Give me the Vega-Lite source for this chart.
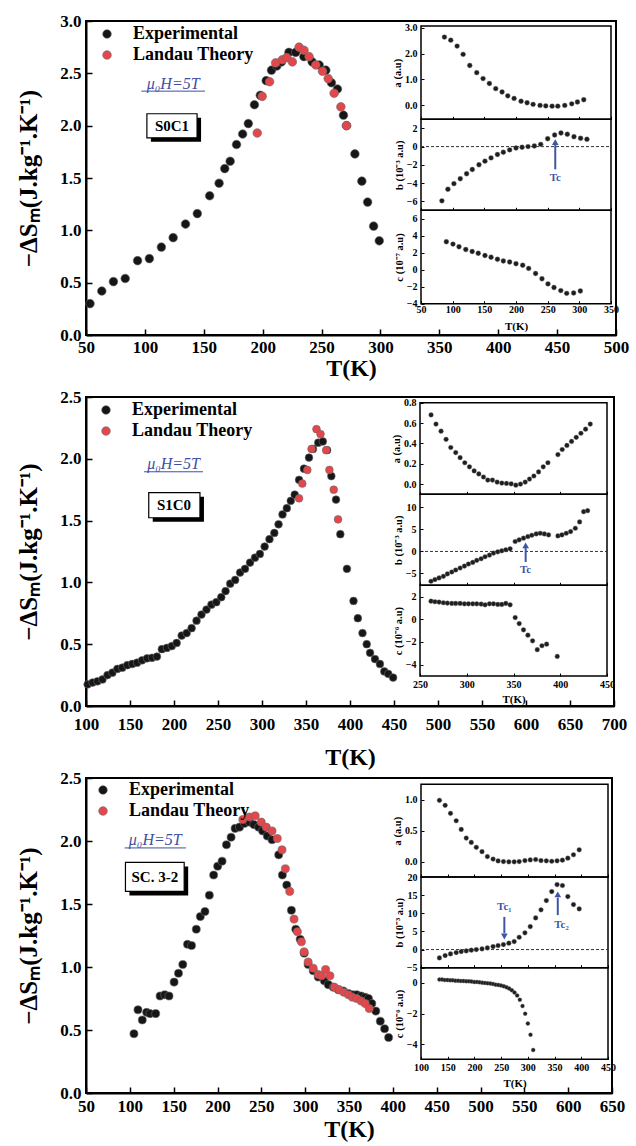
{
"$schema":"https://vega.github.io/schema/vega-lite/v6.json",
"background":"white",
"padding":{"left":15,"top":11,"right":0,"bottom":0},
"config":{
 "view":{"stroke":"black","strokeWidth":2},
 "font":"Liberation Serif",
 "axis":{"grid":false,"labelFont":"Liberation Serif","titleFont":"Liberation Serif","labelFontWeight":"bold","titleFontWeight":"bold","labelColor":"black","titleColor":"black","domainColor":"black","tickColor":"black","labelFlush":false,"labelOverlap":false},
 "legend":{"labelFont":"Liberation Serif","labelFontWeight":"bold","labelFontSize":18,"labelColor":"black","symbolType":"circle","symbolSize":75,"labelOffset":17,"rowPadding":3,"padding":0,"symbolStrokeWidth":0.6,"symbolStrokeColor":"#6a6a6a"}
},
"datasets":{
 "m1":[
  {"T":53.4,"v":0.30,"s":"Experimental"},{"T":63.4,"v":0.42,"s":"Experimental"},{"T":73.3,"v":0.51,"s":"Experimental"},{"T":83.3,"v":0.54,"s":"Experimental"},{"T":93.8,"v":0.71,"s":"Experimental"},{"T":103.8,"v":0.73,"s":"Experimental"},{"T":114,"v":0.84,"s":"Experimental"},{"T":124,"v":0.93,"s":"Experimental"},{"T":134.5,"v":1.06,"s":"Experimental"},{"T":144.5,"v":1.16,"s":"Experimental"},{"T":155,"v":1.33,"s":"Experimental"},{"T":163,"v":1.45,"s":"Experimental"},{"T":167.8,"v":1.59,"s":"Experimental"},{"T":172.4,"v":1.66,"s":"Experimental"},{"T":177.8,"v":1.82,"s":"Experimental"},{"T":183,"v":1.92,"s":"Experimental"},{"T":187.8,"v":2.02,"s":"Experimental"},{"T":193,"v":2.2,"s":"Experimental"},{"T":198,"v":2.29,"s":"Experimental"},{"T":203,"v":2.43,"s":"Experimental"},{"T":207.5,"v":2.53,"s":"Experimental"},{"T":212,"v":2.57,"s":"Experimental"},{"T":216,"v":2.61,"s":"Experimental"},{"T":222.3,"v":2.7,"s":"Experimental"},{"T":228,"v":2.7,"s":"Experimental"},{"T":235,"v":2.66,"s":"Experimental"},{"T":242,"v":2.61,"s":"Experimental"},{"T":248,"v":2.58,"s":"Experimental"},{"T":253.6,"v":2.53,"s":"Experimental"},{"T":258.4,"v":2.41,"s":"Experimental"},{"T":263.5,"v":2.35,"s":"Experimental"},{"T":268.6,"v":2.1,"s":"Experimental"},{"T":271.2,"v":2.0,"s":"Experimental"},{"T":278.3,"v":1.73,"s":"Experimental"},{"T":284.2,"v":1.47,"s":"Experimental"},{"T":289.1,"v":1.27,"s":"Experimental"},{"T":294.2,"v":1.04,"s":"Experimental"},{"T":299,"v":0.9,"s":"Experimental"},
  {"T":195.4,"v":1.93,"s":"Landau Theory"},{"T":199.6,"v":2.28,"s":"Landau Theory"},{"T":205.9,"v":2.42,"s":"Landau Theory"},{"T":211,"v":2.6,"s":"Landau Theory"},{"T":216.7,"v":2.63,"s":"Landau Theory"},{"T":220.4,"v":2.65,"s":"Landau Theory"},{"T":225.2,"v":2.61,"s":"Landau Theory"},{"T":230.9,"v":2.75,"s":"Landau Theory"},{"T":235.1,"v":2.72,"s":"Landau Theory"},{"T":239.4,"v":2.66,"s":"Landau Theory"},{"T":245.1,"v":2.58,"s":"Landau Theory"},{"T":250.8,"v":2.52,"s":"Landau Theory"},{"T":255.6,"v":2.45,"s":"Landau Theory"},{"T":260.7,"v":2.31,"s":"Landau Theory"},{"T":266.4,"v":2.18,"s":"Landau Theory"},{"T":271.2,"v":2.0,"s":"Landau Theory"}
 ],
 "a1":[{"T":87,"v":2.64},{"T":97,"v":2.52},{"T":107,"v":2.29},{"T":116.5,"v":1.97},{"T":127,"v":1.54},{"T":138,"v":1.26},{"T":148,"v":1.03},{"T":158,"v":0.84},{"T":168,"v":0.64},{"T":178,"v":0.51},{"T":187,"v":0.36},{"T":197,"v":0.26},{"T":208,"v":0.15},{"T":217.5,"v":0.09},{"T":227,"v":0.03},{"T":238,"v":-0.01},{"T":247,"v":-0.03},{"T":257,"v":-0.04},{"T":266,"v":-0.04},{"T":277,"v":-0.01},{"T":288,"v":0.05},{"T":297,"v":0.12},{"T":307,"v":0.21}],
 "b1":[{"T":83,"v":-5.96},{"T":92.5,"v":-4.69},{"T":102,"v":-4.07},{"T":112,"v":-3.53},{"T":122,"v":-2.98},{"T":131,"v":-2.51},{"T":141.5,"v":-2.0},{"T":151,"v":-1.6},{"T":160.6,"v":-1.24},{"T":170.7,"v":-0.87},{"T":180,"v":-0.62},{"T":190,"v":-0.36},{"T":200,"v":-0.15},{"T":209.6,"v":-0.07},{"T":219,"v":0.0},{"T":229,"v":0.07},{"T":239,"v":0.25},{"T":250,"v":0.87},{"T":261,"v":1.27},{"T":271,"v":1.49},{"T":281,"v":1.36},{"T":291.5,"v":1.09},{"T":302,"v":0.91},{"T":312,"v":0.8}],
 "c1":[{"T":90,"v":3.29},{"T":100.5,"v":3.02},{"T":110,"v":2.7},{"T":120.7,"v":2.38},{"T":130.8,"v":2.14},{"T":140.4,"v":1.94},{"T":151,"v":1.67},{"T":160.6,"v":1.47},{"T":170.7,"v":1.23},{"T":180,"v":1.03},{"T":190,"v":0.91},{"T":200,"v":0.71},{"T":210.6,"v":0.52},{"T":220,"v":0.16},{"T":230.9,"v":-0.44},{"T":241,"v":-1.07},{"T":250.5,"v":-1.67},{"T":260,"v":-2.1},{"T":270.7,"v":-2.46},{"T":280,"v":-2.78},{"T":291,"v":-2.74},{"T":301.6,"v":-2.5}],
 "m2":[
  {"T":101.9,"v":0.175,"s":"Experimental"},{"T":107.5,"v":0.19,"s":"Experimental"},{"T":113,"v":0.2,"s":"Experimental"},{"T":118.7,"v":0.215,"s":"Experimental"},{"T":124.4,"v":0.25,"s":"Experimental"},{"T":130,"v":0.27,"s":"Experimental"},{"T":135.6,"v":0.3,"s":"Experimental"},{"T":141.2,"v":0.31,"s":"Experimental"},{"T":146.9,"v":0.33,"s":"Experimental"},{"T":152.5,"v":0.34,"s":"Experimental"},{"T":158,"v":0.35,"s":"Experimental"},{"T":163.7,"v":0.37,"s":"Experimental"},{"T":169.4,"v":0.386,"s":"Experimental"},{"T":175,"v":0.39,"s":"Experimental"},{"T":180.6,"v":0.4,"s":"Experimental"},{"T":186.2,"v":0.46,"s":"Experimental"},{"T":191.9,"v":0.47,"s":"Experimental"},{"T":197.5,"v":0.485,"s":"Experimental"},{"T":203,"v":0.51,"s":"Experimental"},{"T":208.7,"v":0.57,"s":"Experimental"},{"T":214.4,"v":0.59,"s":"Experimental"},{"T":220,"v":0.63,"s":"Experimental"},{"T":225.6,"v":0.69,"s":"Experimental"},{"T":231.2,"v":0.74,"s":"Experimental"},{"T":236.9,"v":0.78,"s":"Experimental"},{"T":242.5,"v":0.82,"s":"Experimental"},{"T":248.1,"v":0.84,"s":"Experimental"},{"T":253.7,"v":0.88,"s":"Experimental"},{"T":258.6,"v":0.93,"s":"Experimental"},{"T":263.9,"v":0.99,"s":"Experimental"},{"T":269.5,"v":1.02,"s":"Experimental"},{"T":275.1,"v":1.08,"s":"Experimental"},{"T":280.7,"v":1.11,"s":"Experimental"},{"T":286.4,"v":1.16,"s":"Experimental"},{"T":292,"v":1.2,"s":"Experimental"},{"T":297.6,"v":1.23,"s":"Experimental"},{"T":303,"v":1.29,"s":"Experimental"},{"T":308.5,"v":1.35,"s":"Experimental"},{"T":314,"v":1.4,"s":"Experimental"},{"T":318.8,"v":1.47,"s":"Experimental"},{"T":323.3,"v":1.55,"s":"Experimental"},{"T":328.2,"v":1.6,"s":"Experimental"},{"T":332.7,"v":1.66,"s":"Experimental"},{"T":337.2,"v":1.71,"s":"Experimental"},{"T":342.1,"v":1.83,"s":"Experimental"},{"T":347.7,"v":1.92,"s":"Experimental"},{"T":353.4,"v":2.01,"s":"Experimental"},{"T":357.9,"v":2.08,"s":"Experimental"},{"T":363.9,"v":2.13,"s":"Experimental"},{"T":369.1,"v":2.14,"s":"Experimental"},{"T":374,"v":2.07,"s":"Experimental"},{"T":378.8,"v":1.86,"s":"Experimental"},{"T":384.1,"v":1.67,"s":"Experimental"},{"T":389,"v":1.39,"s":"Experimental"},{"T":396.5,"v":1.11,"s":"Experimental"},{"T":404,"v":0.85,"s":"Experimental"},{"T":408.9,"v":0.71,"s":"Experimental"},{"T":414.2,"v":0.59,"s":"Experimental"},{"T":419,"v":0.5,"s":"Experimental"},{"T":422.8,"v":0.43,"s":"Experimental"},{"T":428.4,"v":0.38,"s":"Experimental"},{"T":434,"v":0.34,"s":"Experimental"},{"T":439,"v":0.28,"s":"Experimental"},{"T":443.5,"v":0.26,"s":"Experimental"},{"T":449,"v":0.23,"s":"Experimental"},
  {"T":342.1,"v":1.68,"s":"Landau Theory"},{"T":345.8,"v":1.8,"s":"Landau Theory"},{"T":351.5,"v":1.91,"s":"Landau Theory"},{"T":356.3,"v":2.08,"s":"Landau Theory"},{"T":361.9,"v":2.24,"s":"Landau Theory"},{"T":366.5,"v":2.2,"s":"Landau Theory"},{"T":372.9,"v":2.07,"s":"Landau Theory"},{"T":376.6,"v":1.91,"s":"Landau Theory"},{"T":381.5,"v":1.75,"s":"Landau Theory"},{"T":386.4,"v":1.51,"s":"Landau Theory"}
 ],
 "a2":[{"T":261.8,"v":0.68},{"T":267.1,"v":0.59},{"T":272.5,"v":0.52},{"T":277.9,"v":0.44},{"T":282.9,"v":0.36},{"T":288.2,"v":0.31},{"T":292.9,"v":0.26},{"T":297.9,"v":0.21},{"T":302.9,"v":0.17},{"T":307.9,"v":0.13},{"T":312.9,"v":0.1},{"T":317.9,"v":0.07},{"T":322.5,"v":0.04},{"T":327.5,"v":0.04},{"T":332.5,"v":0.02},{"T":337.5,"v":0.01},{"T":342.5,"v":0.007},{"T":347.5,"v":0.003},{"T":352.5,"v":-0.01},{"T":357.5,"v":0.0},{"T":362.5,"v":0.02},{"T":367.1,"v":0.05},{"T":371.8,"v":0.08},{"T":376.8,"v":0.12},{"T":381.8,"v":0.17},{"T":386.8,"v":0.21},{"T":397.5,"v":0.29},{"T":402.1,"v":0.34},{"T":407.1,"v":0.38},{"T":412.1,"v":0.42},{"T":417.1,"v":0.46},{"T":422.1,"v":0.5},{"T":427.1,"v":0.54},{"T":432.1,"v":0.59}],
 "b2":[{"T":261.8,"v":-6.78},{"T":266,"v":-6.4},{"T":270.4,"v":-6.03},{"T":275,"v":-5.65},{"T":279.3,"v":-5.12},{"T":284,"v":-4.67},{"T":288.2,"v":-4.22},{"T":292.9,"v":-3.77},{"T":297.5,"v":-3.32},{"T":301.8,"v":-2.86},{"T":306.4,"v":-2.49},{"T":310.7,"v":-2.03},{"T":315.4,"v":-1.66},{"T":319.6,"v":-1.21},{"T":324.3,"v":-0.83},{"T":328.6,"v":-0.38},{"T":333.2,"v":-0.08},{"T":337.5,"v":0.15},{"T":341.8,"v":0.38},{"T":346.4,"v":0.6},{"T":351.8,"v":2.26},{"T":356.1,"v":2.64},{"T":360.7,"v":3.01},{"T":365.4,"v":3.39},{"T":369.6,"v":3.69},{"T":374.3,"v":3.99},{"T":378.6,"v":4.14},{"T":383,"v":3.99},{"T":387.5,"v":3.77},{"T":397.5,"v":3.54},{"T":401.8,"v":3.77},{"T":406.4,"v":4.14},{"T":411.1,"v":4.52},{"T":416.1,"v":5.28},{"T":420.7,"v":6.71},{"T":425,"v":9.04},{"T":429.3,"v":9.27}],
 "c2":[{"T":261.8,"v":1.6},{"T":266,"v":1.55},{"T":270.4,"v":1.52},{"T":275,"v":1.46},{"T":279.3,"v":1.43},{"T":284,"v":1.4},{"T":288.2,"v":1.4},{"T":292.9,"v":1.4},{"T":297.5,"v":1.37},{"T":301.8,"v":1.37},{"T":306.4,"v":1.37},{"T":310.7,"v":1.37},{"T":315.4,"v":1.34},{"T":319.6,"v":1.28},{"T":324.3,"v":1.37},{"T":328.6,"v":1.37},{"T":333.2,"v":1.31},{"T":337.5,"v":1.31},{"T":341.8,"v":1.4},{"T":346.4,"v":1.28},{"T":351.8,"v":0.15},{"T":356.1,"v":-0.38},{"T":360.7,"v":-0.93},{"T":365.4,"v":-1.4},{"T":370.4,"v":-1.9},{"T":375.4,"v":-2.68},{"T":380.4,"v":-2.33},{"T":385.4,"v":-2.19},{"T":396.8,"v":-3.27}],
 "m3":[
  {"T":104.7,"v":0.47,"s":"Experimental"},{"T":109.3,"v":0.66,"s":"Experimental"},{"T":114.2,"v":0.58,"s":"Experimental"},{"T":119.2,"v":0.64,"s":"Experimental"},{"T":123,"v":0.63,"s":"Experimental"},{"T":129.5,"v":0.63,"s":"Experimental"},{"T":134.5,"v":0.77,"s":"Experimental"},{"T":139.8,"v":0.78,"s":"Experimental"},{"T":144.7,"v":0.77,"s":"Experimental"},{"T":150.5,"v":0.88,"s":"Experimental"},{"T":155.5,"v":0.95,"s":"Experimental"},{"T":160.4,"v":1.02,"s":"Experimental"},{"T":165.8,"v":1.18,"s":"Experimental"},{"T":170.4,"v":1.17,"s":"Experimental"},{"T":175.8,"v":1.3,"s":"Experimental"},{"T":180.4,"v":1.4,"s":"Experimental"},{"T":185.7,"v":1.44,"s":"Experimental"},{"T":190.7,"v":1.57,"s":"Experimental"},{"T":195.6,"v":1.73,"s":"Experimental"},{"T":200.2,"v":1.8,"s":"Experimental"},{"T":205.2,"v":1.84,"s":"Experimental"},{"T":210.2,"v":1.97,"s":"Experimental"},{"T":215.5,"v":2.03,"s":"Experimental"},{"T":220.1,"v":2.1,"s":"Experimental"},{"T":225.1,"v":2.11,"s":"Experimental"},{"T":230.9,"v":2.14,"s":"Experimental"},{"T":236.6,"v":2.15,"s":"Experimental"},{"T":241.5,"v":2.13,"s":"Experimental"},{"T":246.9,"v":2.11,"s":"Experimental"},{"T":251.5,"v":2.08,"s":"Experimental"},{"T":256.8,"v":2.04,"s":"Experimental"},{"T":262.2,"v":2.01,"s":"Experimental"},{"T":269.8,"v":1.89,"s":"Experimental"},{"T":274,"v":1.73,"s":"Experimental"},{"T":279,"v":1.65,"s":"Experimental"},{"T":284.3,"v":1.45,"s":"Experimental"},{"T":289.3,"v":1.3,"s":"Experimental"},{"T":294.3,"v":1.22,"s":"Experimental"},{"T":298.9,"v":1.11,"s":"Experimental"},{"T":303.4,"v":1.02,"s":"Experimental"},{"T":309.2,"v":0.97,"s":"Experimental"},{"T":314.9,"v":0.92,"s":"Experimental"},{"T":321.8,"v":0.89,"s":"Experimental"},{"T":326.4,"v":0.86,"s":"Experimental"},{"T":332.1,"v":0.84,"s":"Experimental"},{"T":337.8,"v":0.82,"s":"Experimental"},{"T":343.6,"v":0.81,"s":"Experimental"},{"T":349.3,"v":0.79,"s":"Experimental"},{"T":354.3,"v":0.78,"s":"Experimental"},{"T":358.8,"v":0.78,"s":"Experimental"},{"T":363.9,"v":0.77,"s":"Experimental"},{"T":368.5,"v":0.76,"s":"Experimental"},{"T":372.2,"v":0.75,"s":"Experimental"},{"T":376,"v":0.71,"s":"Experimental"},{"T":380.6,"v":0.65,"s":"Experimental"},{"T":385.7,"v":0.57,"s":"Experimental"},{"T":390.6,"v":0.51,"s":"Experimental"},{"T":395.2,"v":0.44,"s":"Experimental"},
  {"T":228.9,"v":2.17,"s":"Landau Theory"},{"T":236.6,"v":2.19,"s":"Landau Theory"},{"T":243,"v":2.2,"s":"Landau Theory"},{"T":249.9,"v":2.15,"s":"Landau Theory"},{"T":255.6,"v":2.11,"s":"Landau Theory"},{"T":262.2,"v":2.08,"s":"Landau Theory"},{"T":268.2,"v":2.02,"s":"Landau Theory"},{"T":273.6,"v":1.93,"s":"Landau Theory"},{"T":277.4,"v":1.78,"s":"Landau Theory"},{"T":282.4,"v":1.6,"s":"Landau Theory"},{"T":287.3,"v":1.38,"s":"Landau Theory"},{"T":291.1,"v":1.28,"s":"Landau Theory"},{"T":295.7,"v":1.2,"s":"Landau Theory"},{"T":298.8,"v":1.12,"s":"Landau Theory"},{"T":303.4,"v":1.04,"s":"Landau Theory"},{"T":309.2,"v":0.99,"s":"Landau Theory"},{"T":314.9,"v":0.94,"s":"Landau Theory"},{"T":318.7,"v":0.93,"s":"Landau Theory"},{"T":323.3,"v":0.98,"s":"Landau Theory"},{"T":328.3,"v":0.93,"s":"Landau Theory"},{"T":333.3,"v":0.84,"s":"Landau Theory"},{"T":338.7,"v":0.82,"s":"Landau Theory"},{"T":344,"v":0.8,"s":"Landau Theory"},{"T":349.3,"v":0.78,"s":"Landau Theory"},{"T":353.9,"v":0.76,"s":"Landau Theory"},{"T":358.8,"v":0.75,"s":"Landau Theory"},{"T":363.9,"v":0.73,"s":"Landau Theory"},{"T":368.5,"v":0.71,"s":"Landau Theory"},{"T":373.1,"v":0.67,"s":"Landau Theory"}
 ],
 "a3":[{"T":134.5,"v":0.99},{"T":145.2,"v":0.91},{"T":155.2,"v":0.78},{"T":165.9,"v":0.66},{"T":175.3,"v":0.52},{"T":184.7,"v":0.38},{"T":194.1,"v":0.31},{"T":203.5,"v":0.23},{"T":214.2,"v":0.16},{"T":224.2,"v":0.08},{"T":234.9,"v":0.04},{"T":244.3,"v":0.01},{"T":254.3,"v":0.0},{"T":264.4,"v":-0.005},{"T":274.4,"v":-0.005},{"T":283.8,"v":0.0},{"T":294.5,"v":0.016},{"T":304.5,"v":0.027},{"T":314.6,"v":0.033},{"T":324.6,"v":0.016},{"T":334.6,"v":0.011},{"T":344.7,"v":0.005},{"T":354.7,"v":0.011},{"T":364.7,"v":0.022},{"T":374.8,"v":0.055},{"T":385.4,"v":0.11},{"T":396.1,"v":0.19}],
 "b3":[{"T":134.5,"v":-2.3},{"T":145.2,"v":-1.65},{"T":155.2,"v":-1.19},{"T":165.9,"v":-0.83},{"T":175.3,"v":-0.55},{"T":184.7,"v":-0.37},{"T":194.1,"v":-0.18},{"T":203.5,"v":0.0},{"T":214.2,"v":0.18},{"T":224.2,"v":0.46},{"T":234.9,"v":0.83},{"T":244.3,"v":1.1},{"T":254.3,"v":1.38},{"T":264.4,"v":1.75},{"T":274.4,"v":2.21},{"T":283.8,"v":3.4},{"T":294.5,"v":4.6},{"T":304.5,"v":6.34},{"T":314.6,"v":8.73},{"T":324.6,"v":10.94},{"T":334.6,"v":13.51},{"T":344.7,"v":15.99},{"T":354.7,"v":17.92},{"T":364.7,"v":17.65},{"T":374.8,"v":14.61},{"T":385.4,"v":12.41},{"T":396.1,"v":11.21}],
 "c3":[{"T":134.5,"v":0.22},{"T":139.5,"v":0.22},{"T":144.5,"v":0.19},{"T":149.6,"v":0.19},{"T":154.6,"v":0.17},{"T":159.6,"v":0.17},{"T":164.6,"v":0.15},{"T":169.6,"v":0.15},{"T":174.6,"v":0.13},{"T":179.7,"v":0.13},{"T":184.7,"v":0.11},{"T":189.7,"v":0.11},{"T":194.7,"v":0.09},{"T":199.7,"v":0.065},{"T":204.8,"v":0.065},{"T":209.8,"v":0.04},{"T":214.8,"v":0.02},{"T":219.8,"v":0.0},{"T":224.8,"v":-0.02},{"T":229.9,"v":-0.04},{"T":234.9,"v":-0.065},{"T":239.9,"v":-0.11},{"T":244.9,"v":-0.13},{"T":249.9,"v":-0.17},{"T":255,"v":-0.22},{"T":260,"v":-0.28},{"T":265,"v":-0.37},{"T":270,"v":-0.48},{"T":275,"v":-0.63},{"T":280,"v":-0.82},{"T":285,"v":-1.1},{"T":290,"v":-1.51},{"T":295,"v":-2.01},{"T":300,"v":-2.66},{"T":305,"v":-3.39},{"T":310,"v":-4.39}]
},
"bounds":"flush",
"spacing":62,
"resolve":{"scale":{"color":"independent"},"legend":{"color":"independent"}},
"vconcat":[
 {
  "width":530,"height":314,
  "resolve":{"scale":{"x":"independent","y":"independent"},"axis":{"x":"independent","y":"independent"}},
  "layer":[
   {"layer":[
     {"data":{"name":"m1"},"mark":{"type":"point","filled":true,"size":75,"opacity":1,"stroke":"#6a6a6a","strokeWidth":0.6},
      "encoding":{
       "x":{"field":"T","type":"quantitative","scale":{"domain":[50,500],"nice":false,"zero":false},
        "axis":{"orient":"bottom","values":[50,75,100,125,150,175,200,225,250,275,300,325,350,375,400,425,450,475,500],"labelExpr":"datum.value % 50 == 0 ? datum.label : ''","tickSize":-6,"tickWidth":1.5,"domainWidth":2,"labelFontSize":17,"labelPadding":10,"title":"T(K)","titleFontSize":24,"titlePadding":1}},
       "y":{"field":"v","type":"quantitative","scale":{"domain":[0,3],"nice":false,"zero":false},
        "axis":{"orient":"left","values":[0,0.25,0.5,0.75,1,1.25,1.5,1.75,2,2.25,2.5,2.75,3],"labelExpr":"round(datum.value*4) % 2 == 0 ? format(datum.value, '.1f') : ''","tickSize":-6,"tickWidth":1.5,"domainWidth":2,"labelFontSize":17,"labelPadding":11,"title":"−ΔSₘ(J.kg⁻¹.K⁻¹)","titleFontSize":25,"titlePadding":18}},
       "color":{"field":"s","type":"nominal","scale":{"domain":["Experimental","Landau Theory"],"range":["#161616","#e4474b"]},
        "legend":{"title":null,"orient":"none","legendX":12,"legendY":4}}
      }},
     {"data":{"values":[{}]},"mark":{"type":"rect","fill":"black","xOffset":4,"x2Offset":4,"yOffset":4,"y2Offset":4},
      "encoding":{"x":{"datum":101.7,"type":"quantitative"},"x2":{"datum":144.3},"y":{"datum":2.114,"type":"quantitative"},"y2":{"datum":1.884}}},
     {"data":{"values":[{}]},"mark":{"type":"rect","fill":"white","stroke":"black","strokeWidth":1.2},
      "encoding":{"x":{"datum":101.7,"type":"quantitative"},"x2":{"datum":144.3},"y":{"datum":2.114,"type":"quantitative"},"y2":{"datum":1.884}}},
     {"data":{"values":[{}]},"mark":{"type":"text","text":"S0C1","font":"Liberation Serif","fontWeight":"bold","fontSize":15,"color":"black"},
      "encoding":{"x":{"datum":123,"type":"quantitative"},"y":{"datum":2.0,"type":"quantitative"}}},
     {"data":{"values":[{}]},"mark":{"type":"text","text":"μ₀H=5T","font":"Liberation Serif","fontStyle":"italic","fontSize":16,"color":"#3e4fa3"},
      "encoding":{"x":{"datum":124,"type":"quantitative"},"y":{"datum":2.4,"type":"quantitative"}}},
     {"data":{"values":[{}]},"mark":{"type":"rule","color":"#3e4fa3","strokeWidth":1},
      "encoding":{"x":{"datum":97,"type":"quantitative"},"x2":{"datum":151},"y":{"datum":2.33,"type":"quantitative"}}}
   ]},
   {"layer":[
     {"data":{"values":[{}]},"mark":{"type":"rect","fill":"transparent","stroke":"black","strokeWidth":1.5},
      "encoding":{"x":{"datum":50,"type":"quantitative"},"x2":{"datum":350},"y":{"datum":-0.55,"type":"quantitative"},"y2":{"datum":3.07}}},
     {"data":{"name":"a1"},"mark":{"type":"point","filled":true,"size":24,"opacity":1,"color":"#1e1e1e","stroke":"#777","strokeWidth":0.4},
      "encoding":{
       "x":{"field":"T","type":"quantitative","scale":{"domain":[50,350],"range":[335,525],"nice":false,"zero":false},
        "axis":{"orient":"bottom","offset":-215.7,"values":[50,100,150,200,250,300,350],"labels":false,"title":null,"domain":false,"tickSize":-3,"zindex":1}},
       "y":{"field":"v","type":"quantitative","scale":{"domain":[-0.55,3.07],"range":[98.3,5],"nice":false,"zero":false},
        "axis":{"orient":"left","offset":-335,"values":[0,1,2,3],"domain":false,"tickSize":-3,"labelFontSize":10,"labelPadding":7,"title":"a (a.u)","titleFontSize":10.5,"titlePadding":2,"zindex":1}}
      }}
   ]},
   {"layer":[
     {"data":{"values":[{}]},"mark":{"type":"rect","fill":"transparent","stroke":"black","strokeWidth":1.5},
      "encoding":{"x":{"datum":50,"type":"quantitative"},"x2":{"datum":350},"y":{"datum":-7,"type":"quantitative"},"y2":{"datum":3}}},
     {"data":{"values":[{}]},"mark":{"type":"rule","color":"#333","strokeWidth":1,"strokeDash":[3,2]},
      "encoding":{"x":{"datum":50,"type":"quantitative"},"x2":{"datum":350},"y":{"datum":0,"type":"quantitative"}}},
     {"data":{"name":"b1"},"mark":{"type":"point","filled":true,"size":24,"opacity":1,"color":"#1e1e1e","stroke":"#777","strokeWidth":0.4},
      "encoding":{
       "x":{"field":"T","type":"quantitative","scale":{"domain":[50,350],"range":[335,525],"nice":false,"zero":false},
        "axis":{"orient":"bottom","offset":-124.7,"values":[50,100,150,200,250,300,350],"labels":false,"title":null,"domain":false,"tickSize":-3,"zindex":1}},
       "y":{"field":"v","type":"quantitative","scale":{"domain":[-7,3],"range":[189.3,98.3],"nice":false,"zero":false},
        "axis":{"orient":"left","offset":-335,"values":[-6,-4,-2,0,2],"domain":false,"tickSize":-3,"labelFontSize":10,"labelPadding":7,"title":"b (10⁻³ a.u)","titleFontSize":10.5,"titlePadding":2,"zindex":1}}
      }},
     {"data":{"values":[{}]},"mark":{"type":"rule","color":"#3f56a6","strokeWidth":2},
      "encoding":{"x":{"datum":262,"type":"quantitative"},"y":{"datum":-2.5,"type":"quantitative"},"y2":{"datum":0.3}}},
     {"data":{"values":[{}]},"mark":{"type":"point","shape":"triangle-up","filled":true,"size":45,"opacity":1,"color":"#3f56a6"},
      "encoding":{"x":{"datum":262,"type":"quantitative"},"y":{"datum":0.5,"type":"quantitative"}}},
     {"data":{"values":[{}]},"mark":{"type":"text","text":"Tc","font":"Liberation Serif","fontWeight":"bold","fontSize":11,"color":"#3f56a6"},
      "encoding":{"x":{"datum":262,"type":"quantitative"},"y":{"datum":-3.4,"type":"quantitative"}}}
   ]},
   {"layer":[
     {"data":{"values":[{}]},"mark":{"type":"rect","fill":"transparent","stroke":"black","strokeWidth":1.5},
      "encoding":{"x":{"datum":50,"type":"quantitative"},"x2":{"datum":350},"y":{"datum":-4,"type":"quantitative"},"y2":{"datum":7}}},
     {"data":{"name":"c1"},"mark":{"type":"point","filled":true,"size":24,"opacity":1,"color":"#1e1e1e","stroke":"#777","strokeWidth":0.4},
      "encoding":{
       "x":{"field":"T","type":"quantitative","scale":{"domain":[50,350],"range":[335,525],"nice":false,"zero":false},
        "axis":{"orient":"bottom","offset":-31.3,"values":[50,100,150,200,250,300,350],"domain":false,"tickSize":-3,"labelFontSize":10,"labelPadding":4,"title":"T(K)","titleFontSize":11,"titlePadding":6,"zindex":1}},
       "y":{"field":"v","type":"quantitative","scale":{"domain":[-4,7],"range":[282.7,189.3],"nice":false,"zero":false},
        "axis":{"orient":"left","offset":-335,"values":[-4,-2,0,2,4,6],"domain":false,"tickSize":-3,"labelFontSize":10,"labelPadding":7,"title":"c (10⁻⁷ a.u)","titleFontSize":10.5,"titlePadding":2,"zindex":1}}
      }}
   ]}
  ]
 },
 {"bounds":"flush","spacing":72,
  "resolve":{"scale":{"color":"independent"},"legend":{"color":"independent"}},
  "vconcat":[
 {
  "width":528,"height":309,
  "resolve":{"scale":{"x":"independent","y":"independent"},"axis":{"x":"independent","y":"independent"}},
  "layer":[
   {"layer":[
     {"data":{"name":"m2"},"mark":{"type":"point","filled":true,"size":60,"opacity":1,"stroke":"#6a6a6a","strokeWidth":0.6},
      "encoding":{
       "x":{"field":"T","type":"quantitative","scale":{"domain":[100,700],"nice":false,"zero":false},
        "axis":{"orient":"bottom","values":[100,125,150,175,200,225,250,275,300,325,350,375,400,425,450,475,500,525,550,575,600,625,650,675,700],"labelExpr":"datum.value % 50 == 0 ? datum.label : ''","tickSize":-6,"tickWidth":1.5,"domainWidth":2,"labelFontSize":17,"labelPadding":16,"title":"T(K)","titleFontSize":24,"titlePadding":13}},
       "y":{"field":"v","type":"quantitative","scale":{"domain":[0,2.5],"nice":false,"zero":false},
        "axis":{"orient":"left","values":[0,0.25,0.5,0.75,1,1.25,1.5,1.75,2,2.25,2.5],"labelExpr":"round(datum.value*4) % 2 == 0 ? format(datum.value, '.1f') : ''","tickSize":-6,"tickWidth":1.5,"domainWidth":2,"labelFontSize":17,"labelPadding":11,"title":"−ΔSₘ(J.kg⁻¹.K⁻¹)","titleFontSize":25,"titlePadding":18}},
       "color":{"field":"s","type":"nominal","scale":{"domain":["Experimental","Landau Theory"],"range":["#161616","#e4474b"]},
        "legend":{"title":null,"orient":"none","legendX":11,"legendY":4}}
      }},
     {"data":{"values":[{}]},"mark":{"type":"rect","fill":"black","xOffset":4,"x2Offset":4,"yOffset":4,"y2Offset":4},
      "encoding":{"x":{"datum":171.3,"type":"quantitative"},"x2":{"datum":229.5},"y":{"datum":1.726,"type":"quantitative"},"y2":{"datum":1.523}}},
     {"data":{"values":[{}]},"mark":{"type":"rect","fill":"white","stroke":"black","strokeWidth":1.2},
      "encoding":{"x":{"datum":171.3,"type":"quantitative"},"x2":{"datum":229.5},"y":{"datum":1.726,"type":"quantitative"},"y2":{"datum":1.523}}},
     {"data":{"values":[{}]},"mark":{"type":"text","text":"S1C0","font":"Liberation Serif","fontWeight":"bold","fontSize":15,"color":"black"},
      "encoding":{"x":{"datum":200,"type":"quantitative"},"y":{"datum":1.625,"type":"quantitative"}}},
     {"data":{"values":[{}]},"mark":{"type":"text","text":"μ₀H=5T","font":"Liberation Serif","fontStyle":"italic","fontSize":16,"color":"#3e4fa3"},
      "encoding":{"x":{"datum":199.5,"type":"quantitative"},"y":{"datum":1.955,"type":"quantitative"}}},
     {"data":{"values":[{}]},"mark":{"type":"rule","color":"#3e4fa3","strokeWidth":1},
      "encoding":{"x":{"datum":166,"type":"quantitative"},"x2":{"datum":233},"y":{"datum":1.895,"type":"quantitative"}}}
   ]},
   {"layer":[
     {"data":{"values":[{}]},"mark":{"type":"rect","fill":"transparent","stroke":"black","strokeWidth":1.5},
      "encoding":{"x":{"datum":250,"type":"quantitative"},"x2":{"datum":450},"y":{"datum":-0.1,"type":"quantitative"},"y2":{"datum":0.8}}},
     {"data":{"name":"a2"},"mark":{"type":"point","filled":true,"size":22,"opacity":1,"color":"#1e1e1e","stroke":"#777","strokeWidth":0.4},
      "encoding":{
       "x":{"field":"T","type":"quantitative","scale":{"domain":[250,450],"range":[334,521],"nice":false,"zero":false},
        "axis":{"orient":"bottom","offset":-211.7,"values":[250,300,350,400,450],"labels":false,"title":null,"domain":false,"tickSize":-3,"zindex":1}},
       "y":{"field":"v","type":"quantitative","scale":{"domain":[-0.1,0.8],"range":[97.3,5.7],"nice":false,"zero":false},
        "axis":{"orient":"left","offset":-334,"values":[0,0.2,0.4,0.6,0.8],"format":".1f","domain":false,"tickSize":-3,"labelFontSize":10,"labelPadding":7,"title":"a (a.u)","titleFontSize":10.5,"titlePadding":2,"zindex":1}}
      }}
   ]},
   {"layer":[
     {"data":{"values":[{}]},"mark":{"type":"rect","fill":"transparent","stroke":"black","strokeWidth":1.5},
      "encoding":{"x":{"datum":250,"type":"quantitative"},"x2":{"datum":450},"y":{"datum":-7.7,"type":"quantitative"},"y2":{"datum":13}}},
     {"data":{"values":[{}]},"mark":{"type":"rule","color":"#333","strokeWidth":1,"strokeDash":[3,2]},
      "encoding":{"x":{"datum":250,"type":"quantitative"},"x2":{"datum":450},"y":{"datum":0,"type":"quantitative"}}},
     {"data":{"name":"b2"},"mark":{"type":"point","filled":true,"size":22,"opacity":1,"color":"#1e1e1e","stroke":"#777","strokeWidth":0.4},
      "encoding":{
       "x":{"field":"T","type":"quantitative","scale":{"domain":[250,450],"range":[334,521],"nice":false,"zero":false},
        "axis":{"orient":"bottom","offset":-120.7,"values":[250,300,350,400,450],"labels":false,"title":null,"domain":false,"tickSize":-3,"zindex":1}},
       "y":{"field":"v","type":"quantitative","scale":{"domain":[-7.7,13],"range":[188.3,97.3],"nice":false,"zero":false},
        "axis":{"orient":"left","offset":-334,"values":[-5,0,5,10],"domain":false,"tickSize":-3,"labelFontSize":10,"labelPadding":7,"title":"b (10⁻³ a.u)","titleFontSize":10.5,"titlePadding":2,"zindex":1}}
      }},
     {"data":{"values":[{}]},"mark":{"type":"rule","color":"#3f56a6","strokeWidth":2},
      "encoding":{"x":{"datum":363,"type":"quantitative"},"y":{"datum":-2.4,"type":"quantitative"},"y2":{"datum":1.0}}},
     {"data":{"values":[{}]},"mark":{"type":"point","shape":"triangle-up","filled":true,"size":45,"opacity":1,"color":"#3f56a6"},
      "encoding":{"x":{"datum":363,"type":"quantitative"},"y":{"datum":1.4,"type":"quantitative"}}},
     {"data":{"values":[{}]},"mark":{"type":"text","text":"Tc","font":"Liberation Serif","fontWeight":"bold","fontSize":11,"color":"#3f56a6"},
      "encoding":{"x":{"datum":363,"type":"quantitative"},"y":{"datum":-4.3,"type":"quantitative"}}}
   ]},
   {"layer":[
     {"data":{"values":[{}]},"mark":{"type":"rect","fill":"transparent","stroke":"black","strokeWidth":1.5},
      "encoding":{"x":{"datum":250,"type":"quantitative"},"x2":{"datum":450},"y":{"datum":-5,"type":"quantitative"},"y2":{"datum":3}}},
     {"data":{"name":"c2"},"mark":{"type":"point","filled":true,"size":22,"opacity":1,"color":"#1e1e1e","stroke":"#777","strokeWidth":0.4},
      "encoding":{
       "x":{"field":"T","type":"quantitative","scale":{"domain":[250,450],"range":[334,521],"nice":false,"zero":false},
        "axis":{"orient":"bottom","offset":-30,"values":[250,300,350,400,450],"domain":false,"tickSize":-3,"labelFontSize":10,"labelPadding":6,"title":"T(K)","titleFontSize":11,"titlePadding":4,"zindex":1}},
       "y":{"field":"v","type":"quantitative","scale":{"domain":[-5,3],"range":[279,188.3],"nice":false,"zero":false},
        "axis":{"orient":"left","offset":-334,"values":[-4,-2,0,2],"domain":false,"tickSize":-3,"labelFontSize":10,"labelPadding":7,"title":"c (10⁻⁶ a.u)","titleFontSize":10.5,"titlePadding":2,"zindex":1}}
      }}
   ]}
  ]
 },
 {
  "width":526,"height":315,
  "resolve":{"scale":{"x":"independent","y":"independent"},"axis":{"x":"independent","y":"independent"}},
  "layer":[
   {"layer":[
     {"data":{"name":"m3"},"mark":{"type":"point","filled":true,"size":65,"opacity":1,"stroke":"#6a6a6a","strokeWidth":0.6},
      "encoding":{
       "x":{"field":"T","type":"quantitative","scale":{"domain":[50,650],"nice":false,"zero":false},
        "axis":{"orient":"bottom","values":[50,75,100,125,150,175,200,225,250,275,300,325,350,375,400,425,450,475,500,525,550,575,600,625,650],"labelExpr":"datum.value % 50 == 0 ? datum.label : ''","tickSize":-6,"tickWidth":1.5,"domainWidth":2,"labelFontSize":17,"labelPadding":11,"title":"T(K)","titleFontSize":24,"titlePadding":3}},
       "y":{"field":"v","type":"quantitative","scale":{"domain":[0,2.5],"nice":false,"zero":false},
        "axis":{"orient":"left","values":[0,0.25,0.5,0.75,1,1.25,1.5,1.75,2,2.25,2.5],"labelExpr":"round(datum.value*4) % 2 == 0 ? format(datum.value, '.1f') : ''","tickSize":-6,"tickWidth":1.5,"domainWidth":2,"labelFontSize":17,"labelPadding":11,"title":"−ΔSₘ(J.kg⁻¹.K⁻¹)","titleFontSize":25,"titlePadding":18}},
       "color":{"field":"s","type":"nominal","scale":{"domain":["Experimental","Landau Theory"],"range":["#161616","#e4474b"]},
        "legend":{"title":null,"orient":"none","legendX":8,"legendY":3}}
      }},
     {"data":{"values":[{}]},"mark":{"type":"rect","fill":"black","xOffset":4,"x2Offset":4,"yOffset":4,"y2Offset":4},
      "encoding":{"x":{"datum":95,"type":"quantitative"},"x2":{"datum":162},"y":{"datum":1.83,"type":"quantitative"},"y2":{"datum":1.6}}},
     {"data":{"values":[{}]},"mark":{"type":"rect","fill":"white","stroke":"black","strokeWidth":1.2},
      "encoding":{"x":{"datum":95,"type":"quantitative"},"x2":{"datum":162},"y":{"datum":1.83,"type":"quantitative"},"y2":{"datum":1.6}}},
     {"data":{"values":[{}]},"mark":{"type":"text","text":"SC. 3-2","font":"Liberation Serif","fontWeight":"bold","fontSize":15,"color":"black"},
      "encoding":{"x":{"datum":128.5,"type":"quantitative"},"y":{"datum":1.715,"type":"quantitative"}}},
     {"data":{"values":[{}]},"mark":{"type":"text","text":"μ₀H=5T","font":"Liberation Serif","fontStyle":"italic","fontSize":16,"color":"#3e4fa3"},
      "encoding":{"x":{"datum":129,"type":"quantitative"},"y":{"datum":2.01,"type":"quantitative"}}},
     {"data":{"values":[{}]},"mark":{"type":"rule","color":"#3e4fa3","strokeWidth":1},
      "encoding":{"x":{"datum":94,"type":"quantitative"},"x2":{"datum":164},"y":{"datum":1.945,"type":"quantitative"}}}
   ]},
   {"layer":[
     {"data":{"values":[{}]},"mark":{"type":"rect","fill":"transparent","stroke":"black","strokeWidth":1.5},
      "encoding":{"x":{"datum":100,"type":"quantitative"},"x2":{"datum":450},"y":{"datum":-0.25,"type":"quantitative"},"y2":{"datum":1.25}}},
     {"data":{"name":"a3"},"mark":{"type":"point","filled":true,"size":22,"opacity":1,"color":"#1e1e1e","stroke":"#777","strokeWidth":0.4},
      "encoding":{
       "x":{"field":"T","type":"quantitative","scale":{"domain":[100,450],"range":[335,522],"nice":false,"zero":false},
        "axis":{"orient":"bottom","offset":-216,"values":[100,150,200,250,300,350,400,450],"labels":false,"title":null,"domain":false,"tickSize":-3,"zindex":1}},
       "y":{"field":"v","type":"quantitative","scale":{"domain":[-0.25,1.25],"range":[99,6.3],"nice":false,"zero":false},
        "axis":{"orient":"left","offset":-335,"values":[0,0.5,1],"format":".1f","domain":false,"tickSize":-3,"labelFontSize":10,"labelPadding":7,"title":"a (a.u)","titleFontSize":10.5,"titlePadding":2,"zindex":1}}
      }}
   ]},
   {"layer":[
     {"data":{"values":[{}]},"mark":{"type":"rect","fill":"transparent","stroke":"black","strokeWidth":1.5},
      "encoding":{"x":{"datum":100,"type":"quantitative"},"x2":{"datum":450},"y":{"datum":-5,"type":"quantitative"},"y2":{"datum":20}}},
     {"data":{"values":[{}]},"mark":{"type":"rule","color":"#333","strokeWidth":1,"strokeDash":[3,2]},
      "encoding":{"x":{"datum":100,"type":"quantitative"},"x2":{"datum":450},"y":{"datum":0,"type":"quantitative"}}},
     {"data":{"name":"b3"},"mark":{"type":"point","filled":true,"size":22,"opacity":1,"color":"#1e1e1e","stroke":"#777","strokeWidth":0.4},
      "encoding":{
       "x":{"field":"T","type":"quantitative","scale":{"domain":[100,450],"range":[335,522],"nice":false,"zero":false},
        "axis":{"orient":"bottom","offset":-125.3,"values":[100,150,200,250,300,350,400,450],"labels":false,"title":null,"domain":false,"tickSize":-3,"zindex":1}},
       "y":{"field":"v","type":"quantitative","scale":{"domain":[-5,20],"range":[189.7,99],"nice":false,"zero":false},
        "axis":{"orient":"left","offset":-335,"values":[-5,0,5,10,15,20],"domain":false,"tickSize":-3,"labelFontSize":10,"labelPadding":7,"title":"b (10⁻³ a.u)","titleFontSize":10.5,"titlePadding":2,"zindex":1}}
      }},
     {"data":{"values":[{}]},"mark":{"type":"rule","color":"#3f56a6","strokeWidth":2},
      "encoding":{"x":{"datum":256,"type":"quantitative"},"y":{"datum":9,"type":"quantitative"},"y2":{"datum":4.5}}},
     {"data":{"values":[{}]},"mark":{"type":"point","shape":"triangle-down","filled":true,"size":45,"opacity":1,"color":"#3f56a6"},
      "encoding":{"x":{"datum":256,"type":"quantitative"},"y":{"datum":3.6,"type":"quantitative"}}},
     {"data":{"values":[{}]},"mark":{"type":"text","text":"Tc₁","font":"Liberation Serif","fontWeight":"bold","fontSize":11,"color":"#3f56a6"},
      "encoding":{"x":{"datum":256,"type":"quantitative"},"y":{"datum":11.8,"type":"quantitative"}}},
     {"data":{"values":[{}]},"mark":{"type":"rule","color":"#3f56a6","strokeWidth":2},
      "encoding":{"x":{"datum":356,"type":"quantitative"},"y":{"datum":9.5,"type":"quantitative"},"y2":{"datum":14.3}}},
     {"data":{"values":[{}]},"mark":{"type":"point","shape":"triangle-up","filled":true,"size":45,"opacity":1,"color":"#3f56a6"},
      "encoding":{"x":{"datum":356,"type":"quantitative"},"y":{"datum":15.2,"type":"quantitative"}}},
     {"data":{"values":[{}]},"mark":{"type":"text","text":"Tc₂","font":"Liberation Serif","fontWeight":"bold","fontSize":11,"color":"#3f56a6"},
      "encoding":{"x":{"datum":363,"type":"quantitative"},"y":{"datum":6.8,"type":"quantitative"}}}
   ]},
   {"layer":[
     {"data":{"values":[{}]},"mark":{"type":"rect","fill":"transparent","stroke":"black","strokeWidth":1.5},
      "encoding":{"x":{"datum":100,"type":"quantitative"},"x2":{"datum":450},"y":{"datum":-5,"type":"quantitative"},"y2":{"datum":1}}},
     {"data":{"name":"c3"},"mark":{"type":"point","filled":true,"size":16,"opacity":1,"color":"#1e1e1e","stroke":"#777","strokeWidth":0.4},
      "encoding":{
       "x":{"field":"T","type":"quantitative","scale":{"domain":[100,450],"range":[335,522],"nice":false,"zero":false},
        "axis":{"orient":"bottom","offset":-33.7,"values":[100,150,200,250,300,350,400,450],"domain":false,"tickSize":-3,"labelFontSize":10,"labelPadding":6,"title":"T(K)","titleFontSize":11,"titlePadding":5,"zindex":1}},
       "y":{"field":"v","type":"quantitative","scale":{"domain":[-5,1],"range":[281.3,189.7],"nice":false,"zero":false},
        "axis":{"orient":"left","offset":-335,"values":[-4,-2,0],"domain":false,"tickSize":-3,"labelFontSize":10,"labelPadding":7,"title":"c (10⁻⁶ a.u)","titleFontSize":10.5,"titlePadding":2,"zindex":1}}
      }}
   ]}
  ]
 }
 ]}
]
}
